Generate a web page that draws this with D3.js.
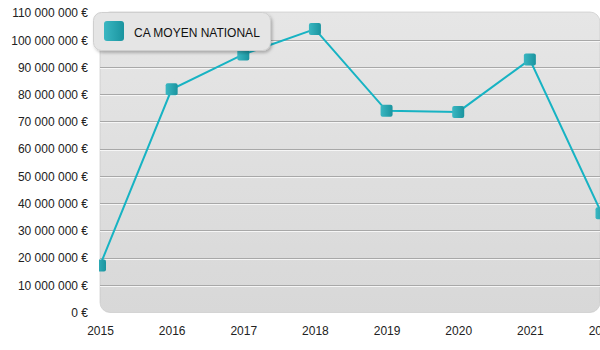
<!DOCTYPE html>
<html>
<head>
<meta charset="utf-8">
<script src="https://cdn.jsdelivr.net/npm/d3@7/dist/d3.min.js"></script>
<style>
  html, body { margin: 0; padding: 0; background: #fff; }
  svg { display: block; font-family: "Liberation Sans", Arial, sans-serif; }
</style>
</head>
<body>
<svg id="chart" width="600" height="350"></svg>
<script>
// Average national turnover per year
const years = [2015, 2016, 2017, 2018, 2019, 2020, 2021, 2022];
const caMoyen = [17100000, 81800000, 94600000, 103900000, 73900000, 73500000, 92700000, 36300000];
const seriesName = "CA MOYEN NATIONAL";
const yTicks = [0, 10e6, 20e6, 30e6, 40e6, 50e6, 60e6, 70e6, 80e6, 90e6, 100e6, 110e6];

const svg = d3.select("#chart");
const plot = { left: 100, top: 12.5, right: 600, bottom: 312 };

const x = d3.scaleLinear().domain([2015, 2022]).range([plot.left, 601.5]);
const y = d3.scaleLinear().domain([0, 110e6]).range([plot.bottom, plot.top]);

const locale = d3.formatLocale({ decimal: ",", thousands: "\u00a0", grouping: [3], currency: ["", " €"] });
const fmt = v => locale.format(",.0f")(v).replace(/\u00a0/g, " ") + " €";

const defs = svg.append("defs");
const bg = defs.append("linearGradient").attr("id", "bgGrad").attr("x1", 0).attr("y1", 0).attr("x2", 0).attr("y2", 1);
bg.append("stop").attr("offset", 0).attr("stop-color", "#e6e6e6");
bg.append("stop").attr("offset", 1).attr("stop-color", "#d8d8d8");

const mk = defs.append("linearGradient").attr("id", "mkGrad").attr("x1", 0).attr("y1", 0).attr("x2", 1).attr("y2", 0);
mk.append("stop").attr("offset", 0).attr("stop-color", "#3ab7c2");
mk.append("stop").attr("offset", 1).attr("stop-color", "#1a949f");

const sh = defs.append("filter").attr("id", "shadow").attr("x", "-10%").attr("y", "-20%").attr("width", "130%").attr("height", "160%");
sh.append("feDropShadow").attr("dx", 1.5).attr("dy", 2).attr("stdDeviation", 1.5).attr("flood-color", "#000").attr("flood-opacity", 0.25);

defs.append("clipPath").attr("id", "plotClip")
  .append("rect").attr("x", plot.left - 1).attr("y", 0).attr("width", 520).attr("height", 350);

// plot background
svg.append("rect")
  .attr("x", plot.left).attr("y", plot.top - 0.5)
  .attr("width", plot.right - plot.left).attr("height", plot.bottom - plot.top + 1)
  .attr("rx", 10).attr("ry", 10)
  .attr("fill", "url(#bgGrad)")
  .attr("stroke", "#c4c4c4").attr("stroke-width", 0.6);

// grid lines (engraved: dark line with light line below)
const grid = svg.append("g");
yTicks.filter(t => t > 0 && t < 110e6).forEach(t => {
  const yy = Math.round(y(t));
  grid.append("line").attr("x1", plot.left).attr("x2", plot.right)
    .attr("y1", yy + 0.5).attr("y2", yy + 0.5).attr("stroke", "#a8a8a8").attr("stroke-width", 1);
  grid.append("line").attr("x1", plot.left).attr("x2", plot.right)
    .attr("y1", yy + 1.5).attr("y2", yy + 1.5).attr("stroke", "#f6f6f6").attr("stroke-width", 1);
});

// y axis labels
const yAxis = d3.axisLeft(y).tickValues(yTicks).tickFormat(fmt).tickSize(0).tickPadding(12);
const gy = svg.append("g").attr("transform", `translate(${plot.left},0)`).call(yAxis);
gy.select(".domain").remove();
gy.selectAll("text").attr("font-size", 12).attr("fill", "#222").attr("font-family", "Liberation Sans, Arial, sans-serif")
  .attr("dy", "0.36em");

// x axis labels
const xAxis = d3.axisBottom(x).tickValues(years).tickFormat(d3.format("d")).tickSize(0).tickPadding(14);
const gx = svg.append("g").attr("transform", `translate(0,${plot.bottom})`).call(xAxis);
gx.select(".domain").remove();
gx.selectAll("text").attr("font-size", 12).attr("fill", "#222").attr("font-family", "Liberation Sans, Arial, sans-serif");

// series
const data = years.map((yr, i) => ({ yr, v: caMoyen[i] }));
const series = svg.append("g").attr("clip-path", "url(#plotClip)");
series.append("path").datum(data)
  .attr("d", d3.line().x(d => x(d.yr)).y(d => y(d.v)))
  .attr("fill", "none").attr("stroke", "#17b3c3").attr("stroke-width", 2);
series.selectAll("rect.pt").data(data).join("rect").attr("class", "pt")
  .attr("x", d => x(d.yr) - 6).attr("y", d => y(d.v) - 6)
  .attr("width", 12).attr("height", 12).attr("rx", 2)
  .attr("fill", "url(#mkGrad)");

// legend
const lg = svg.append("g");
lg.append("rect").attr("x", 93.5).attr("y", 12.5).attr("width", 177).attr("height", 38).attr("rx", 8)
  .attr("fill", "#e5e5e5").attr("stroke", "#cfcfcf").attr("stroke-width", 1).attr("filter", "url(#shadow)");
lg.append("rect").attr("x", 104).attr("y", 21).attr("width", 20).attr("height", 20).attr("rx", 3)
  .attr("fill", "url(#mkGrad)");
lg.append("text").attr("x", 134).attr("y", 36.5).attr("font-size", 12).attr("fill", "#111").text(seriesName);
</script>
</body>
</html>
